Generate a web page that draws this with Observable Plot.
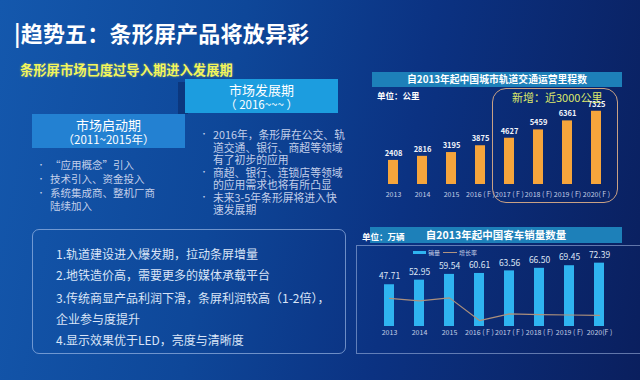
<!DOCTYPE html>
<html><head><meta charset="utf-8">
<script src="https://cdn.jsdelivr.net/npm/d3@7"></script>
<script src="https://cdn.jsdelivr.net/npm/@observablehq/plot@0.6"></script>
<style>
html,body{margin:0;padding:0;width:640px;height:380px;overflow:hidden;background:#0c3a8a;}
#slide{position:relative;width:640px;height:380px;overflow:hidden;
 font-family:"Noto Sans CJK SC","Noto Sans",sans-serif;color:#fff;
 background:linear-gradient(100deg,#1458ad 0%,#0e4799 35%,#0b3282 62%,#0a1f5e 100%);}
.abs{position:absolute;white-space:nowrap;}
.title{left:14px;top:16px;font-size:22px;font-weight:bold;letter-spacing:0.2px;}
.sub{left:20px;top:60px;font-size:13.3px;font-weight:bold;color:#f2f55a;text-shadow:0 0 3px rgba(255,255,120,0.35);}
.phase{text-align:center;color:#fff;line-height:15px;}
.bul{font-size:10.5px;color:#c3cfea;}
.bul .b{position:absolute;left:-13px;font-size:8px;}
.box{left:32px;top:229px;width:312px;height:123px;border:1px solid rgba(175,200,240,0.6);border-radius:7px;}
.pts{left:56px;font-size:12px;color:#d9e4f7;}
.hdr{background:#1d80b9;font-weight:bold;text-align:center;}
.unit{font-size:8.5px;font-weight:bold;}
</style></head>
<body>
<div id="slide">
  <div class="abs title">|趋势五：条形屏产品将放异彩</div>
  <div class="abs sub">条形屏市场已度过导入期进入发展期</div>

  <div class="abs" style="left:178px;top:82px;width:10px;height:32px;background:rgba(5,20,70,0.35);"></div>
  <div class="abs phase" style="left:185px;top:79px;width:153px;height:34px;background:#1c9ddf;">
    <div style="font-size:13px;padding-top:3px;">市场发展期</div>
    <div style="font-size:11.5px;">（ 2016~~~ ）</div>
  </div>
  <div class="abs phase" style="left:32px;top:114px;width:153px;height:34px;background:#2381d2;">
    <div style="font-size:13px;padding-top:3px;">市场启动期</div>
    <div style="font-size:11.5px;">（2011~2015年）</div>
  </div>

  <div class="abs bul" style="left:50px;top:158px;line-height:13.3px;">
    <div style="position:relative;margin-bottom:1px;"><span class="b">•</span>“应用概念”引入</div>
    <div style="position:relative"><span class="b">•</span>技术引入、资金投入</div>
    <div style="position:relative"><span class="b">•</span>系统集成商、整机厂商<br>陆续加入</div>
  </div>
  <div class="abs bul" style="left:213px;top:128px;line-height:12.5px;font-size:10.8px;">
    <div style="position:relative"><span class="b">•</span>2016年，条形屏在公交、轨<br>道交通、银行、商超等领域<br>有了初步的应用</div>
    <div style="position:relative"><span class="b">•</span>商超、银行、连锁店等领域<br>的应用需求也将有所凸显</div>
    <div style="position:relative"><span class="b">•</span>未来3-5年条形屏将进入快<br>速发展期</div>
  </div>

  <div class="abs box"></div>
  <div class="abs pts" style="top:245px;">1.轨道建设进入爆发期，拉动条屏增量</div>
  <div class="abs pts" style="top:266px;">2.地铁造价高，需要更多的媒体承载平台</div>
  <div class="abs pts" style="top:289px;">3.传统商显产品利润下滑，条屏利润较高（1-2倍），</div>
  <div class="abs pts" style="top:310px;">企业参与度提升</div>
  <div class="abs pts" style="top:331px;">4.显示效果优于LED，亮度与清晰度</div>

  <!-- top-right chart -->
  <div class="abs hdr" style="left:372px;top:72px;width:250px;height:15px;font-size:9.8px;line-height:15px;">自2013年起中国城市轨道交通运营里程数</div>
  <div class="abs unit" style="left:377px;top:89px;">单位：公里</div>
  <div id="rail" class="abs" style="left:360px;top:90px;"></div>
  <div class="abs" style="left:492px;top:88px;width:124px;height:113px;border:1.5px solid #c9a184;border-radius:14px;"></div>
  <div class="abs" style="left:512px;top:89px;font-size:11px;color:#dde86a;">新增：近3000公里</div>

  <!-- bottom-right chart -->
  <div class="abs" style="left:356px;top:245px;width:300px;height:107px;border:1px solid rgba(170,190,230,0.55);border-right:none;"></div>
  <div class="abs hdr" style="left:370px;top:227px;width:252px;height:16px;font-size:10.5px;line-height:16px;">自2013年起中国客车销量数量</div>
  <div class="abs unit" style="left:362px;top:230px;">单位：万辆</div>
  <div class="abs" style="left:413px;top:251px;width:13px;height:3px;background:#2fb4f0;"></div>
  <div class="abs" style="left:428px;top:248px;font-size:6px;color:#c8d2e8;">销量</div>
  <div class="abs" style="left:443px;top:252px;width:14px;height:1px;background:#b09480;"></div>
  <div class="abs" style="left:459px;top:248px;font-size:6px;color:#c8d2e8;">增长率</div>
  <div id="bus" class="abs" style="left:360px;top:245px;"></div>
  <div id="growth" class="abs" style="left:360px;top:245px;"></div>
</div>
<script>
const railYears = ["2013","2014","2015","2016 ( F )","2017 ( F )","2018 ( F)","2019 ( F)","2020( F )"];
const railKm = [2408,2816,3195,3875,4627,5459,6361,7325];
const busYears = ["2013","2014","2015","2016 ( F )","2017 ( F )","2018 ( F)","2019 ( F)","2020(F )"];
const busSales = [47.71,52.95,59.54,60.61,63.56,66.50,69.45,72.39];
const busGrowth = [12.2,11.0,12.4,1.8,4.9,4.6,4.4,4.2];

const rail = railYears.map((y,i)=>({year:y, km:railKm[i]}));
const bus = busYears.map((y,i)=>({year:y, sales:busSales[i], growth:busGrowth[i]}));
const font = '"Noto Sans CJK SC","Noto Sans",sans-serif';

document.getElementById("rail").appendChild(Plot.plot({
  width:280, height:115, marginLeft:27, marginRight:38, marginTop:14, marginBottom:21,
  style:{background:"transparent", color:"#c5cfe6", fontSize:"7px", fontFamily:font},
  x:{type:"band", domain:railYears, paddingInner:0.66, paddingOuter:0, tickSize:0, tickPadding:8, label:null},
  y:{domain:[0,8000], axis:null},
  marks:[
    Plot.barY(rail,{x:"year", y:"km", fill:"#f6a53c"}),
    Plot.text(rail,{x:"year", y:"km", text:d=>String(d.km), dy:-7, fill:"#f2f4fa", fontWeight:"bold", fontSize:7.5})
  ]
}));

document.getElementById("bus").appendChild(Plot.plot({
  width:280, height:100, marginLeft:21, marginRight:33, marginTop:11, marginBottom:19,
  style:{background:"transparent", color:"#c5cfe6", fontSize:"7px", fontFamily:font},
  x:{type:"band", domain:busYears, paddingInner:0.675, paddingOuter:0, tickSize:0, tickPadding:4, label:null},
  y:{domain:[0,80], axis:null},
  marks:[
    Plot.barY(bus,{x:"year", y:"sales", fill:"#2fb4f0"}),
    Plot.text(bus,{x:"year", y:"sales", text:d=>d.sales.toFixed(2), dy:-8, fill:"#dfe6f5", fontSize:8.5})
  ]
}));

document.getElementById("growth").appendChild(Plot.plot({
  width:280, height:100, marginLeft:21, marginRight:33, marginTop:14.7, marginBottom:21.1,
  style:{background:"transparent", fontFamily:font},
  x:{type:"band", domain:busYears, paddingInner:0.675, paddingOuter:0, axis:null},
  y:{domain:[0,30], axis:null},
  marks:[
    Plot.line(bus,{x:"year", y:"growth", stroke:"#ad907c", strokeWidth:1.2})
  ]
}));
</script>
</body></html>
